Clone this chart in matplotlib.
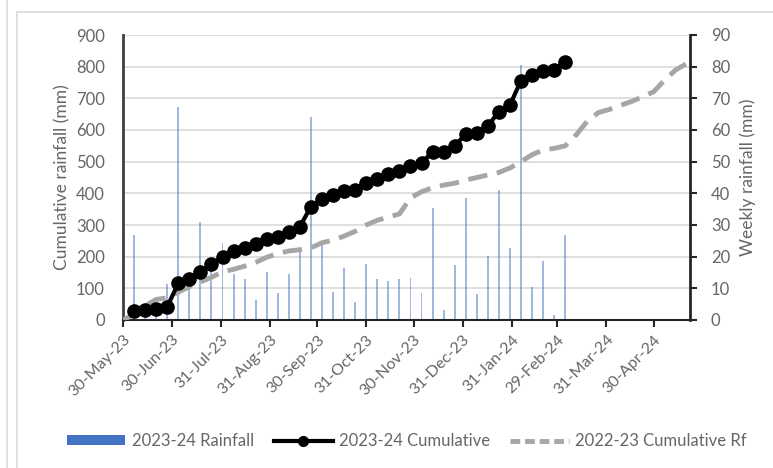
import matplotlib
matplotlib.use("Agg")
import matplotlib.pyplot as plt
import matplotlib.dates as mdates
from matplotlib.patches import Patch, Rectangle
from matplotlib.lines import Line2D
import numpy as np
import pandas as pd

plt.rcParams['font.family'] = ['Lato', 'DejaVu Sans']

# ---- data ----
week_start_2324 = "2023-06-06"
weekly_rain_2324 = [26.8, 5, 2, 11.4, 67.4, 10.5, 31, 18, 24.4, 14.5,
                    12.8, 6.3, 15, 8.6, 14.5, 22, 64, 23.6, 8.9, 16.3,
                    5.8, 17.6, 12.8, 12.4, 12.8, 13.2, 8.4, 35.5, 3.2, 17.4,
                    38.6, 8.1, 20.2, 41, 22.6, 80.5, 10.3, 18.7, 1.6, 26.8]
cumulative_2324 = [28, 32, 34, 42, 116, 128, 153, 176, 200, 218,
                   228, 239, 256, 263, 278, 295, 358, 382, 395, 408,
                   411, 432, 444, 460, 472, 486, 497, 530, 532, 550,
                   587, 590, 613, 658, 679, 756, 774, 787, 790, 816]
week_start_2223 = "2023-05-30"
cumulative_2223 = [0, 18, 45, 65, 70, 88, 105, 120, 135, 152,
                   160, 170, 182, 198, 210, 218, 222, 228, 244, 252,
                   265, 280, 300, 315, 325, 335, 385, 405, 418, 426,
                   432, 442, 450, 458, 466, 480, 500, 522, 537, 542,
                   550, 585, 628, 655, 665, 678, 690, 705, 721, 758,
                   790, 810]
tick_dates = ["2023-05-30", "2023-06-30", "2023-07-31", "2023-08-31", "2023-09-30",
              "2023-10-31", "2023-11-30", "2023-12-31", "2024-01-31", "2024-02-29",
              "2024-03-31", "2024-04-30"]
tick_labels = ["30-May-23", "30-Jun-23", "31-Jul-23", "31-Aug-23", "30-Sep-23",
               "31-Oct-23", "30-Nov-23", "31-Dec-23", "31-Jan-24", "29-Feb-24",
               "31-Mar-24", "30-Apr-24"]
x_range = ["2023-05-30", "2024-05-23"]

dates_2324 = pd.date_range(week_start_2324, periods=len(weekly_rain_2324), freq="7D")
dates_2223 = pd.date_range(week_start_2223, periods=len(cumulative_2223), freq="7D")

text_col = "#666666"
fig = plt.figure(figsize=(7.73, 4.68), dpi=100)

# outer frame lines
fig.add_artist(Line2D([7/773, 7/773], [0, 1], transform=fig.transFigure, color="#d9d9d9", lw=1.2))
fig.add_artist(Rectangle((17/773, -0.1), 1.0, 1.1 - 12/468, transform=fig.transFigure,
                         fill=False, edgecolor="#d9d9d9", lw=1.2))

ax = fig.add_axes([123/773, 1 - 320/468, (690 - 123)/773, (320 - 35)/468])
ax2 = ax.twinx()
ax.set_zorder(ax2.get_zorder() + 1)
ax.patch.set_visible(False)
ax2.patch.set_visible(True)
ax2.patch.set_facecolor("white")

# bars on right axis
ax2.bar(dates_2324, weekly_rain_2324, width=1.2, color="#4472C4", alpha=0.5, zorder=3)
ax2.set_ylim(0, 90)
ax2.set_yticks(np.arange(0, 91, 10))
ax2.yaxis.grid(True, color="#d9d9d9", lw=1.2, zorder=0)
ax2.set_axisbelow(True)

# lines on left axis
ax.plot(dates_2223, cumulative_2223, color="#a6a6a6", lw=3.5, dashes=(4, 2), zorder=3)
ax.plot(dates_2324, cumulative_2324, color="black", lw=3, marker="o", ms=9.5, zorder=4)
ax.set_ylim(0, 900)
ax.set_yticks(np.arange(0, 901, 100))

ax.set_xlim(pd.Timestamp(x_range[0]), pd.Timestamp(x_range[1]))
ax.set_xticks(pd.to_datetime(tick_dates))
ax.set_xticklabels(tick_labels, rotation=45, ha="right", rotation_mode="anchor")

for a in (ax, ax2):
    a.spines["top"].set_visible(False)
ax.spines["right"].set_visible(False)
ax2.spines["left"].set_visible(False)
ax2.spines["bottom"].set_visible(False)
ax.spines["left"].set_color("#404040")
ax.spines["left"].set_linewidth(2)
ax2.spines["right"].set_color("#262626")
ax2.spines["right"].set_linewidth(2)
ax.spines["bottom"].set_color("#262626")
ax.spines["bottom"].set_linewidth(1.5)

ax.tick_params(axis="y", length=0, pad=13, labelsize=12, labelcolor=text_col)
ax.tick_params(axis="x", length=5, width=1.5, color="#262626", direction="out",
               pad=4, labelsize=11.5, labelcolor=text_col)
ax2.tick_params(axis="y", length=5, width=1.5, color="#262626", direction="out",
                pad=10, labelsize=12, labelcolor=text_col)

ax.set_ylabel("Cumulative rainfall (mm)", fontsize=12.5, color=text_col, labelpad=4)
ax2.set_ylabel("Weekly rainfall (mm)", fontsize=12.5, color=text_col, labelpad=7)

handles = [Patch(facecolor="#4472C4", edgecolor="none"),
           Line2D([0], [0], color="black", lw=3, marker="o", ms=7),
           Line2D([0], [0], color="#a6a6a6", lw=3.5, dashes=(2, 1))]
labels = ["2023-24 Rainfall", "2023-24 Cumulative", "2022-23 Cumulative Rf"]
leg = fig.legend(handles, labels, loc="center", bbox_to_anchor=(407/773, 1 - 441/468),
                 ncol=3, frameon=False, fontsize=12, handlelength=3.5,
                 handleheight=0.5, columnspacing=1.2, handletextpad=0.4)
for t in leg.get_texts():
    t.set_color(text_col)

fig.savefig("out.png", dpi=100)
